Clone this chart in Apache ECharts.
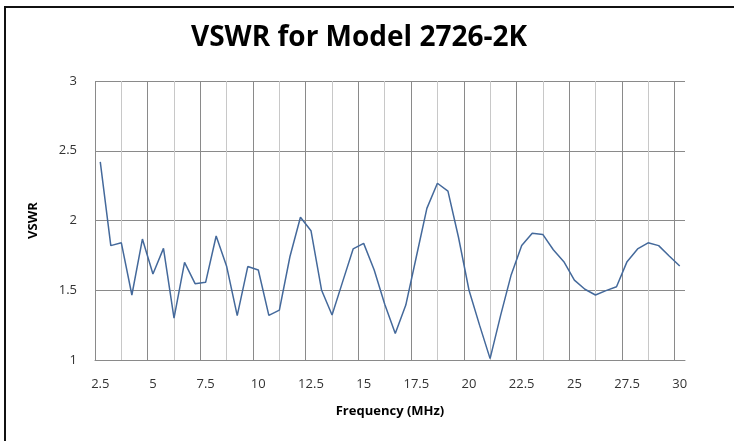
<!DOCTYPE html>
<html><head><meta charset="utf-8">
<script src="https://cdn.jsdelivr.net/npm/echarts@6/dist/echarts.min.js"></script>
<style>html,body{margin:0;padding:0;background:#fff}#c{width:734px;height:441px}</style>
</head><body><div id="c"></div>
<script>
var frequencies = ['2.5','3','3.5','4','4.5','5','5.5','6','6.5','7','7.5','8','8.5','9','9.5','10','10.5','11','11.5','12','12.5','13','13.5','14','14.5','15','15.5','16','16.5','17','17.5','18','18.5','19','19.5','20','20.5','21','21.5','22','22.5','23','23.5','24','24.5','25','25.5','26','26.5','27','27.5','28','28.5','29','29.5','30'];
var vswr = [2.42,1.82,1.84,1.466,1.867,1.617,1.80,1.30,1.70,1.547,1.557,1.889,1.67,1.318,1.67,1.645,1.32,1.358,1.74,2.023,1.927,1.502,1.323,1.56,1.796,1.836,1.645,1.40,1.19,1.394,1.74,2.087,2.267,2.21,1.88,1.50,1.25,1.01,1.32,1.61,1.82,1.908,1.90,1.79,1.705,1.573,1.507,1.466,1.497,1.525,1.705,1.796,1.84,1.82,1.745,1.674];
var yTicks = {min: 1, max: 3, step: 0.5};
var titleText = 'VSWR for Model 2726-2K';
var xName = 'Frequency (MHz)';
var yName = 'VSWR';

var chart = echarts.init(document.getElementById('c'), null, {renderer: 'canvas'});
var font = 'Open Sans, Liberation Sans, sans-serif';
chart.setOption({
  animation: false,
  backgroundColor: '#fff',
  title: {text: titleText, left: 186, top: 19, textStyle: {fontFamily: font, fontSize: 28, fontWeight: 'bold', color: '#000'}},
  grid: {left: 95, right: 49, top: 81, bottom: 81},
  graphic: [{type: 'rect', shape: {x: 5, y: 7, width: 760, height: 460}, style: {fill: 'none', stroke: '#111', lineWidth: 2}, silent: true, z: 100}],
  xAxis: [{
    type: 'category', data: frequencies, boundaryGap: true,
    axisLine: {show: true, lineStyle: {color: '#8a8a8a', width: 1}},
    axisTick: {show: false},
    axisLabel: {interval: 4, margin: 18, fontFamily: font, fontSize: 13, color: '#333'},
    splitLine: {show: false},
    name: xName, nameLocation: 'middle', nameGap: 45,
    nameTextStyle: {fontFamily: font, fontSize: 13, fontWeight: 'bold', color: '#000'}
  }, {
    type: 'value', min: 0, max: 590 / 52.68, interval: 1, position: 'bottom',
    axisLine: {show: false}, axisTick: {show: false}, axisLabel: {show: false},
    splitLine: {show: true, showMaxLine: false, lineStyle: {color: '#8a8a8a', width: 1}},
    minorTick: {show: false, splitNumber: 2},
    minorSplitLine: {show: true, lineStyle: {color: '#c8c8c8', width: 1}}
  }],
  yAxis: {
    type: 'value', min: yTicks.min, max: yTicks.max, interval: yTicks.step,
    axisLine: {show: false}, axisTick: {show: false},
    axisLabel: {margin: 18, fontFamily: font, fontSize: 13, color: '#333'},
    splitLine: {show: true, lineStyle: {color: '#8a8a8a', width: 1}},
    name: yName, nameLocation: 'middle', nameGap: 55, nameRotate: 90,
    nameTextStyle: {fontFamily: font, fontSize: 13, fontWeight: 'bold', color: '#000'}
  },
  series: [{
    type: 'line', xAxisIndex: 0, data: vswr, showSymbol: false, symbol: 'none',
    lineStyle: {color: '#44699b', width: 1.5}, z: 5
  }]
});
</script></body></html>
